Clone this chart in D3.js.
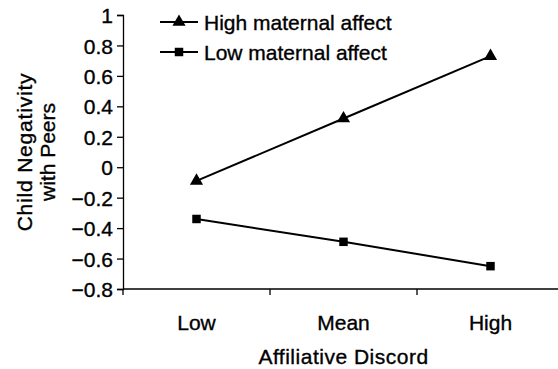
<!DOCTYPE html>
<html>
<head>
<meta charset="utf-8">
<script src="https://cdn.jsdelivr.net/npm/d3@7.9.0/dist/d3.min.js"></script>
<style>
  html, body { margin: 0; padding: 0; background: #fff; }
  text { font-family: Arial, "Liberation Sans", sans-serif; fill: #000; stroke: #000; stroke-width: 0.35px; }
</style>
</head>
<body>
<div id="chart"></div>
<script>
const categories = ['Low', 'Mean', 'High'];
const highAffect = [-0.09, 0.32, 0.73];
const lowAffect = [-0.34, -0.49, -0.65];
const yTicks = [1, 0.8, 0.6, 0.4, 0.2, 0, -0.2, -0.4, -0.6, -0.8];
const seriesNames = ['High maternal affect', 'Low maternal affect'];

const W = 558, H = 369;
const fontSize = 21;

const svg = d3.select('#chart').append('svg')
  .attr('width', W).attr('height', H);

const x = d3.scaleBand().domain(categories).range([123, 564]);
const y = d3.scaleLinear().domain([-0.8, 1]).range([289, 15]);

// y axis
const yAxis = svg.append('g').attr('transform', 'translate(123,0)')
  .call(d3.axisLeft(y).tickValues(yTicks).tickSize(6).tickPadding(4)
    .tickFormat(d => d3.format('')(+d.toFixed(1))));
yAxis.select('.domain').attr('stroke', '#000').attr('stroke-width', 1.3);
yAxis.selectAll('.tick line').attr('stroke', '#000').attr('stroke-width', 1.3);
yAxis.selectAll('.tick text').attr('font-size', fontSize).attr('font-family', null)
  .attr('dy', '0.36em');

// x axis (ticks between categories, pointing down)
const xg = svg.append('g').attr('transform', 'translate(0,289)');
xg.append('line').attr('x1', 123).attr('x2', W).attr('stroke', '#000').attr('stroke-width', 1.3);
xg.selectAll('line.tk').data(categories.map(c => x(c))).join('line').attr('class', 'tk')
  .attr('x1', d => d).attr('x2', d => d).attr('y1', 0).attr('y2', 6)
  .attr('stroke', '#000').attr('stroke-width', 1.3);
xg.selectAll('text').data(categories).join('text')
  .attr('x', d => x(d) + x.bandwidth() / 2)
  .attr('y', 41)
  .attr('text-anchor', 'middle')
  .attr('font-size', fontSize)
  .text(d => d);

// axis titles
svg.append('text')
  .attr('x', (x.range()[0] + x.range()[1]) / 2)
  .attr('y', 364)
  .attr('text-anchor', 'middle')
  .attr('font-size', fontSize)
  .attr('letter-spacing', 0.5)
  .text('Affiliative Discord');

const yt = svg.append('text')
  .attr('transform', 'translate(0,' + ((y(1) + y(-0.8)) / 2) + ') rotate(-90)')
  .attr('text-anchor', 'middle')
  .attr('font-size', fontSize);
yt.append('tspan').attr('x', 0).attr('y', 32).attr('letter-spacing', 0.8).text('Child Negativity');
yt.append('tspan').attr('x', 0).attr('y', 55).text('with Peers');

// lines
const cx = d => x(d) + x.bandwidth() / 2;
const line = d3.line().x(d => cx(d.c)).y(d => y(d.v));
const triangle = d3.symbol().type(d3.symbolTriangle).size(75);
const square = d3.symbol().type(d3.symbolSquare).size(72);

const series = [
  { name: seriesNames[0], values: highAffect, sym: triangle },
  { name: seriesNames[1], values: lowAffect, sym: square }
];

series.forEach(s => {
  const pts = categories.map((c, i) => ({ c, v: s.values[i] }));
  svg.append('path').datum(pts).attr('d', line)
    .attr('fill', 'none').attr('stroke', '#000').attr('stroke-width', 2);
  svg.selectAll(null).data(pts).join('path')
    .attr('d', s.sym)
    .attr('transform', d => 'translate(' + cx(d.c) + ',' + y(d.v) + ')')
    .attr('fill', '#000');
});

// legend
const leg = svg.append('g');
series.forEach((s, i) => {
  const ly = 22 + i * 30;
  leg.append('line').attr('x1', 160).attr('x2', 198).attr('y1', ly).attr('y2', ly)
    .attr('stroke', '#000').attr('stroke-width', 2);
  leg.append('path').attr('d', s.sym).attr('transform', 'translate(179,' + ly + ')').attr('fill', '#000');
  leg.append('text').attr('x', 204).attr('y', ly + 7.5).attr('font-size', fontSize).text(s.name);
});
</script>
</body>
</html>
